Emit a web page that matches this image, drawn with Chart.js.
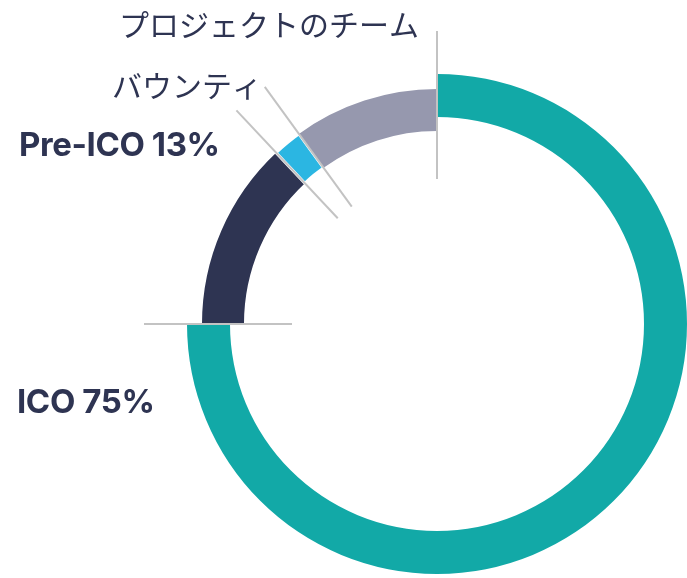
<!DOCTYPE html>
<html>
<head>
<meta charset="utf-8">
<script src="https://cdn.jsdelivr.net/npm/chart.js@4"></script>
<style>
  html, body { margin: 0; padding: 0; background: #fff; }
  #wrap { width: 687px; height: 578px; position: relative; }
</style>
</head>
<body>
<div id="wrap"><canvas id="tokenChart" width="687" height="578"></canvas></div>
<script>
// token allocation, percent (clockwise from 12 o'clock: ICO first)
const categories = ["ICO", "Pre-ICO", "バウンティ", "プロジェクトのチーム"];
const shares = [75, 13, 2, 10];
const sliceColors = ["#12a9a7", "#2e3452", "#2bb6e2", "#9698ae"];

const ink = "#2e3452";
const sepColor = "#c3c3c3";

// labels on the left side of the ring
const labelTexts = [
    categories[0] + " " + shares[0] + "%",
    categories[1] + " " + shares[1] + "%",
    categories[2],
    categories[3],
];

const labelPlugin = {
    id: "ringLabels",
    afterDatasetsDraw(chart) {
        const ctx = chart.ctx;
        const inner = chart.getDatasetMeta(1).data;
        const arc = inner[1];
        const cx = arc.x, cy = arc.y;

        // separator lines at each slice boundary
        const bounds = [inner[1].startAngle, inner[2].startAngle, inner[3].startAngle, inner[3].endAngle];
        ctx.save();
        ctx.strokeStyle = sepColor;
        ctx.lineWidth = 2;
        bounds.forEach((a) => {
            ctx.beginPath();
            ctx.moveTo(cx + Math.cos(a) * 145, cy + Math.sin(a) * 145);
            ctx.lineTo(cx + Math.cos(a) * 293, cy + Math.sin(a) * 293);
            ctx.stroke();
        });

        ctx.fillStyle = ink;
        ctx.textBaseline = "middle";
        ctx.textAlign = "left";
        ctx.letterSpacing = "-0.4px";
        ctx.font = "700 33px Inter, 'Noto Sans', sans-serif";
        ctx.fillText(labelTexts[0], 17, 403);
        ctx.fillText(labelTexts[1], 19, 146);
        ctx.letterSpacing = "0px";
        ctx.font = "400 30px 'Noto Sans CJK JP', sans-serif";
        ctx.fillText(labelTexts[2], 112, 86);
        ctx.fillText(labelTexts[3], 119, 25);
        ctx.restore();
    },
};

const ctx = document.getElementById("tokenChart").getContext("2d");
new Chart(ctx, {
    type: "doughnut",
    data: {
        labels: categories,
        datasets: [
            {
                // outer teal ring: ICO only
                data: [shares[0], shares[1] + shares[2] + shares[3]],
                backgroundColor: [sliceColors[0], "rgba(0,0,0,0)"],
                borderWidth: 0,
                radius: 250,
                cutout: "65.6%",
            },
            {
                // inner ring: the rest
                data: [shares[0], shares[1], shares[2], shares[3]],
                backgroundColor: ["rgba(0,0,0,0)", sliceColors[1], sliceColors[2], sliceColors[3]],
                borderColor: "#ffffff",
                borderWidth: [0, 0, 3, 0],
                radius: 277,
                cutout: "69.68%",
            },
        ],
    },
    options: {
        responsive: false,
        animation: false,
        events: [],
        layout: { padding: { left: 187, top: 70, right: 0, bottom: 0 } },
        plugins: {
            legend: { display: false },
            tooltip: { enabled: false },
        },
    },
    plugins: [labelPlugin],
});
</script>
</body>
</html>
